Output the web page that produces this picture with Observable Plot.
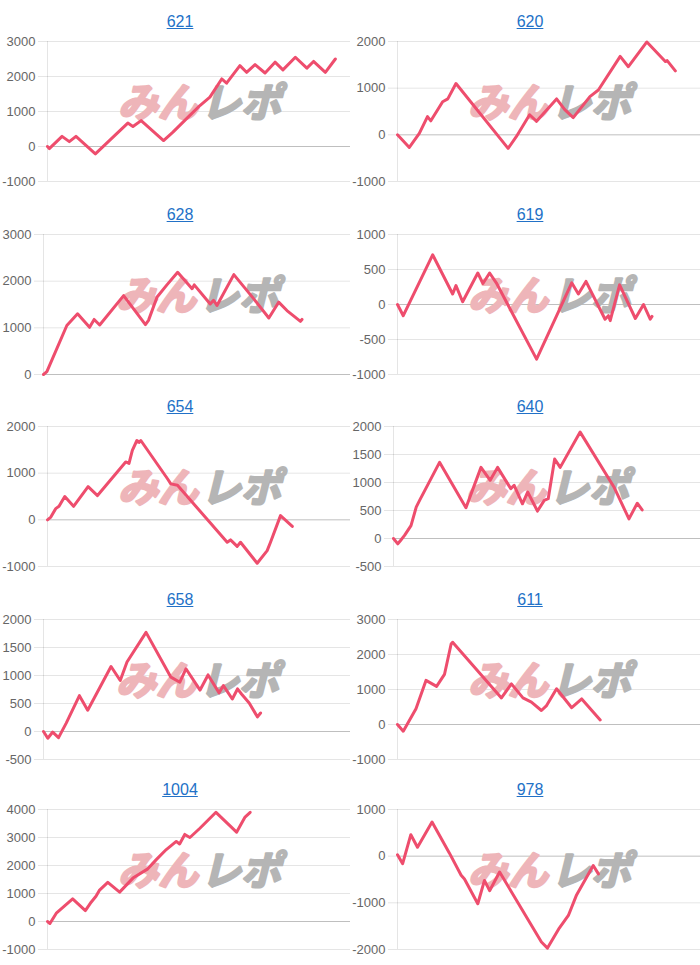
<!DOCTYPE html>
<html><head><meta charset="utf-8">
<script src="https://cdn.jsdelivr.net/npm/d3@7"></script>
<script src="https://cdn.jsdelivr.net/npm/@observablehq/plot@0.6"></script>
<style>
body{margin:0;background:#fff;}
#wrap{position:relative;width:700px;height:965px;overflow:hidden;background:#fff;}
.cell{position:absolute;width:350px;}
.title{position:absolute;width:360px;text-align:center;font:16px "Liberation Sans",Arial,sans-serif;line-height:18px;color:#2271c7;text-decoration:underline;}
</style></head><body><div id="wrap"></div>
<script>
// ---- data (x = progress %, y = balance) ----
const titles = ["621","620","628","619","654","640","658","611","1004","978"];

const x621 = [0,0.6,4.8,7.2,9.4,15.8,26.5,28.2,30.9,38.3,41.4,46.4,50.3,53.6,57.5,59.1,63.5,65.7,68.5,71.8,75.1,77.7,81.8,85.6,87.8,91.7,95.0];
const y621 = [0,-60,290,140,290,-210,670,570,740,170,410,840,1170,1410,1930,1810,2310,2120,2340,2100,2410,2190,2550,2240,2430,2120,2500];

const x620 = [0,3.9,7.2,9.9,11.0,14.9,16.6,19.3,36.5,39.2,43.6,45.9,52.5,55.2,58.0,63.5,66.3,73.5,76.2,82.3,88.4,89.0,91.7];
const y620 = [0,-270,30,390,300,710,770,1100,-290,-40,430,290,770,540,370,820,960,1680,1460,1990,1570,1590,1370];

const x628 = [0,1.1,7.6,11.1,15.0,16.5,18.3,26.1,33.2,34.2,37.0,40.2,43.7,48.4,49.1,54.3,55.4,56.5,62.0,68.5,73.4,76.6,79.3,83.7,84.2];
const y628 = [0,60,1050,1300,1010,1180,1060,1690,1070,1160,1660,1920,2190,1840,1920,1510,1590,1480,2140,1620,1210,1550,1370,1140,1180];

const x619 = [0,1.9,11.6,18.2,19.3,21.5,26.5,28.2,30.4,32.6,45.9,53.6,57.5,59.7,62.2,68.5,69.6,70.2,73.3,78.5,81.2,83.4,84.0];
const y619 = [0,-160,710,150,270,40,450,300,450,310,-780,-60,310,150,330,-210,-160,-230,280,-200,0,-210,-170];

const x654 = [0,1.1,2.7,3.8,5.7,8.6,13.4,16.5,25.8,26.9,28.0,29.5,30.2,30.8,39.6,40.7,42.9,59.3,60.4,62.6,63.7,69.2,72.5,73.6,76.9,80.8];
const y654 = [0,60,240,290,500,290,710,520,1240,1210,1490,1700,1660,1700,880,770,740,-480,-430,-570,-480,-930,-660,-480,90,-140];

const x640 = [0,1.4,2.3,3.6,5.7,7.4,8.5,15.0,23.6,28.5,31.5,33.9,38.2,39.3,42.0,43.7,46.9,49.1,50.4,52.5,54.3,60.8,71.8,76.7,79.4,81.0];
const y640 = [0,-95,-35,55,230,560,680,1360,550,1270,1040,1270,890,950,620,830,490,680,710,1420,1270,1900,920,350,630,510];

const x658 = [0,1.4,3.0,4.9,7.4,11.7,14.4,22.0,25.0,27.2,33.4,41.5,44.4,46.4,51.0,53.6,57.2,58.6,61.5,63.2,64.5,67.0,69.7,70.7];
const y658 = [0,-120,-10,-110,150,640,380,1160,910,1240,1770,970,880,1120,740,1010,690,820,580,760,670,510,260,330];

const x611 = [0,1.9,3.3,6.1,9.4,12.9,15.5,17.7,18.2,34.3,37.6,41.4,44.2,47.5,49.2,52.5,57.5,60.8,66.9];
const y611 = [0,-190,20,450,1260,1090,1430,2300,2350,760,1160,760,640,400,540,1020,480,730,130];

const x1004 = [0,0.8,3.0,8.3,12.5,14.4,16.0,17.1,19.9,23.8,28.2,33.1,35.9,39.2,42.5,43.6,45.3,47.0,50.3,55.6,62.4,65.2,66.9];
const y1004 = [0,-70,310,810,390,690,900,1110,1400,1050,1550,1880,2210,2570,2860,2770,3110,3000,3330,3900,3190,3730,3900];

const x978 = [0,1.7,4.4,6.6,11.4,17.1,21.0,22.1,26.5,28.7,30.4,33.7,47.5,49.5,53.4,56.4,59.1,64.6,66.3];
const y978 = [30,-160,460,190,730,70,-410,-490,-1020,-520,-740,-340,-1840,-1970,-1540,-1270,-830,-200,-380];

const yTicks = [
  [-1000,0,1000,2000,3000],
  [-1000,0,1000,2000],
  [0,1000,2000,3000],
  [-1000,-500,0,500,1000],
  [-1000,0,1000,2000],
  [-500,0,500,1000,1500,2000],
  [-500,0,500,1000,1500,2000],
  [-1000,0,1000,2000,3000],
  [-1000,0,1000,2000,3000,4000],
  [-2000,-1000,0,1000]
];
const seriesX = [x621,x620,x628,x619,x654,x640,x658,x611,x1004,x978];
const seriesY = [y621,y620,y628,y619,y654,y640,y658,y611,y1004,y978];

// ---- layout ----
const plotTops = [41,234,426,619,809];
const wrap = document.getElementById("wrap");
const ctx = document.createElement("canvas").getContext("2d");
ctx.font = '13px "Liberation Sans", Arial, sans-serif';

const wmFont = '"Noto Sans CJK JP", sans-serif';

titles.forEach((t, i) => {
  const col = i % 2, row = Math.floor(i / 2);
  const left = col * 350, top = plotTops[row];
  const ticks = yTicks[i];
  const labelW = Math.max(...ticks.map(v => ctx.measureText(String(v)).width));
  const mL = Math.round(labelW + 14);
  const data = seriesX[i].map((x, k) => ({x, y: seriesY[i][k]}));

  const title = document.createElement("div");
  title.className = "title";
  title.style.left = left + "px";
  title.style.top = (top - 28) + "px";
  title.textContent = t;
  wrap.appendChild(title);

  const svg = Plot.plot({
    width: 350, height: 160,
    marginTop: 10, marginBottom: 10, marginLeft: mL, marginRight: 0,
    style: {background: "transparent", fontFamily: '"Liberation Sans", Arial, sans-serif', fontSize: "13px", overflow: "visible"},
    x: {domain: [0, 100], axis: null},
    y: {domain: [ticks[0], ticks[ticks.length - 1]], axis: null},
    marks: [
      Plot.gridY(ticks.filter(v => v !== 0), {stroke: "#000", strokeOpacity: 0.1}),
      Plot.ruleY([0], {stroke: "#000", strokeOpacity: 0.25}),
      Plot.ruleX([0], {stroke: "#000", strokeOpacity: 0.1}),
      Plot.axisY(ticks, {tickSize: 9, tickPadding: 3, stroke: "#e5e5e5", fill: "#666", tickFormat: d => String(d), label: null}),
      Plot.text(["みん"], {frameAnchor: "middle", textAnchor: "end", dx: -1, dy: -7, fill: "#eeb5b9", stroke: "#eeb5b9", strokeWidth: 2.5, fontSize: 40, fontWeight: "bold", fontStyle: "italic", fontFamily: wmFont}),
      Plot.text(["レポ"], {frameAnchor: "middle", textAnchor: "start", dx: 2, dy: -7, fill: "#b5b5b5", stroke: "#b5b5b5", strokeWidth: 2.5, fontSize: 40, fontWeight: "bold", fontStyle: "italic", fontFamily: wmFont}),
      Plot.line(data, {x: "x", y: "y", stroke: "#ee4d6d", strokeWidth: 3, strokeLinejoin: "round"})
    ]
  });
  const cell = document.createElement("div");
  cell.className = "cell";
  cell.style.left = left + "px";
  cell.style.top = (top - 10) + "px";
  cell.appendChild(svg);
  wrap.appendChild(cell);
});
</script></body></html>
